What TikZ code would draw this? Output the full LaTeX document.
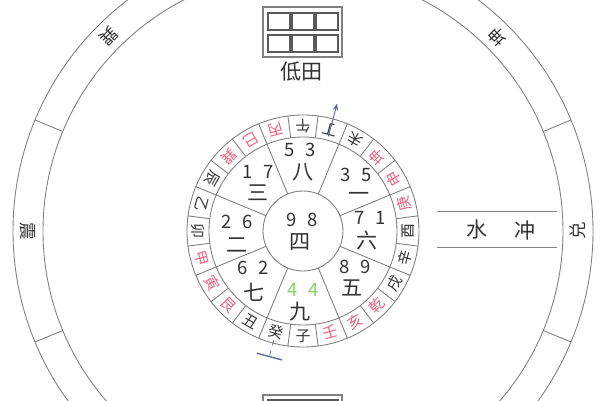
\documentclass[tikz,border=0pt]{standalone}
\usepackage{fontspec}
\setmainfont{Noto Sans CJK SC}
\usetikzlibrary{arrows.meta}

\definecolor{ink}{HTML}{333333}
\definecolor{redink}{HTML}{E8637F}
\definecolor{greenink}{HTML}{86D06A}
\definecolor{rule}{HTML}{808080}
\definecolor{dirline}{HTML}{5A6A9A}

\begin{document}
\begin{tikzpicture}[
  x=0.02cm, y=0.02cm,
  ln/.style={draw=rule, line width=0.5pt},
  mtn/.style={inner sep=0pt, font=\fontsize{8.5}{8.5}\selectfont},
  trig/.style={inner sep=0pt, text=ink, font=\fontsize{10}{10}\selectfont},
  num/.style={inner sep=0pt, font=\fontsize{10.5}{10.5}\selectfont},
  star/.style={inner sep=0pt, text=ink, font=\fontsize{12}{12}\selectfont},
  cell/.style={draw=rule!70!black, line width=0.9pt},
  frame/.style={draw=rule, line width=1.3pt}
]
\useasboundingbox[fill=white] (0,0) rectangle (600,400);
\clip (0,0) rectangle (600,400);

\coordinate (C) at (303,169);

% rings
\foreach \r in {290,260,116,94,40}
  \draw[ln] (C) circle (\r);

% dividers: trigrams, mountains, palaces
\foreach \a in {22.5,67.5,...,337.5}
  \draw[ln] ([shift={(\a:260)}]C) -- ([shift={(\a:290)}]C);
\foreach \a in {7.5,22.5,...,352.5}
  \draw[ln] ([shift={(\a:94)}]C) -- ([shift={(\a:116)}]C);
\foreach \a in {22.5,67.5,...,337.5}
  \draw[ln] ([shift={(\a:40)}]C) -- ([shift={(\a:94)}]C);

% trigram names
\foreach \t/\a in {兑/0,坤/45,巽/135,震/180}
  \node[trig, rotate=\a+90] (t\a) at ([shift={(\a:275)}]C) {\t};

% 24 mountains
\foreach \m/\c [count=\i from 0] in {子/ink,癸/ink,丑/ink,艮/redink,寅/redink,甲/redink,卯/ink,乙/ink,辰/ink,巽/redink,巳/redink,丙/redink,午/ink,丁/ink,未/ink,坤/redink,申/redink,庚/redink,酉/ink,辛/ink,戌/ink,乾/redink,亥/redink,壬/redink}{
  \pgfmathsetmacro\a{270-15*\i}
  \node[mtn, text=\c, rotate=\a+90] (m\i) at ([shift={(\a:105)}]C) {\m};
}

% palaces: stars and numeral
\foreach \x/\y/\u/\v/\p/\q/\s/\c [count=\i] in {
  300/250/303/228/5/3/八/ink,
  356/225/359/203/3/5/一/ink,
  370/182/367/160/7/1/六/ink,
  355/133/352/112/8/9/五/ink,
  303/110/300/88/4/4/九/greenink,
  253/132/254/108/6/2/七/ink,
  237/178/237/155/2/6/二/ink,
  258/228/258/207/1/7/三/ink,
  302/180/300/158/9/8/四/ink}{
  \node[num, text=\c] (d\i) at (\x,\y) {\p\hspace{0.55em}\q};
  \node[star] (s\i) at (\u,\v) {\s};
}

% sitting and facing line
\coordinate (dingIn) at ([shift={(75:98)}]C);
\coordinate (ding) at ([shift={(75:132)}]C);
\draw[draw=dirline, line width=0.5pt, -{Stealth[length=4pt,width=3pt]}] (dingIn) -- (ding);
\coordinate (guiIn) at ([shift={(255:113)}]C);
\coordinate (gui) at ([shift={(255:130)}]C);
\draw[draw=dirline, line width=0.4pt, dashed] (guiIn) -- (gui);
\draw[draw=dirline, line width=0.8pt] ([shift={(165:13)}]gui) -- ([shift={(345:13)}]gui);

% water
\draw[ln] (437,189) -- (557,189);
\draw[ln] (437,153) -- (557,153);
\node[star] (shui) at (477,170) {水};
\node[star] (chong) at (525,170) {冲};

% low field, top
\draw[frame] (263,343) rectangle (342,393);
\foreach \cx in {268,292,316}
  \foreach \cy in {348,370}
    \draw[cell] (\cx,\cy) rectangle ++(22,17);
\node[star] (ditian) at (302,328) {低田};

% field, bottom
\draw[frame] (263,5) rectangle (342,-45);
\foreach \cx in {268,292,316}
  \draw[cell] (\cx,-17) rectangle ++(22,17);

\end{tikzpicture}
\end{document}
